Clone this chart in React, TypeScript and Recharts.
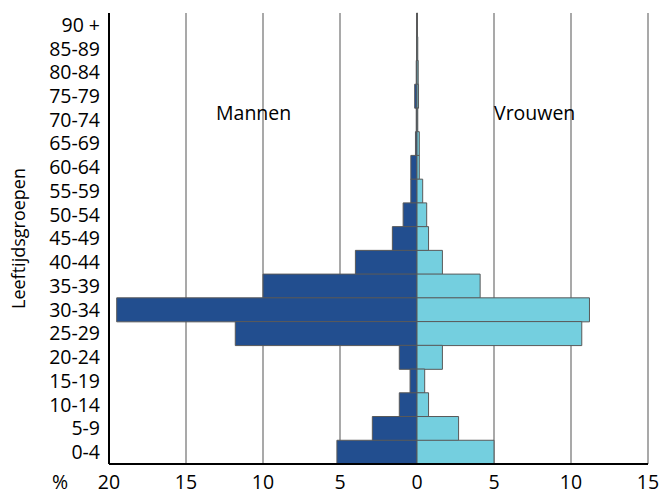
import { Bar, BarChart, CartesianGrid, ReferenceDot, XAxis, YAxis } from "recharts";

const ageGroups = [
  "90 +", "85-89", "80-84", "75-79", "70-74", "65-69", "60-64", "55-59", "50-54", "45-49",
  "40-44", "35-39", "30-34", "25-29", "20-24", "15-19", "10-14", "5-9", "0-4",
];
const mannen = [0.02, 0.02, 0.05, 0.15, 0.05, 0.1, 0.4, 0.4, 0.9, 1.6, 4.0, 10.0, 19.5, 11.8, 1.15, 0.45, 1.15, 2.9, 5.2];
const vrouwen = [0.03, 0.05, 0.08, 0.1, 0.05, 0.15, 0.15, 0.37, 0.63, 0.75, 1.65, 4.1, 11.2, 10.7, 1.65, 0.5, 0.75, 2.7, 5.0];
const xTicks = [-20, -15, -10, -5, 0, 5, 10, 15];

const data = ageGroups.map((age, i) => ({ age, mannen: -mannen[i], vrouwen: vrouwen[i] }));

const FONT = "'Open Sans', sans-serif";

function YTitle(props: any) {
  const vb = props.viewBox || { x: 0, y: 0, height: 0 };
  const cy = vb.y + vb.height / 2;
  return (
    <text x={18} y={cy} transform={`rotate(-90 18 ${cy})`} textAnchor="middle" dominantBaseline="central"
      fontFamily={FONT} fontSize={18} fill="#000">
      Leeftijdsgroepen
    </text>
  );
}

function Percent(props: any) {
  const vb = props.viewBox || { x: 0, y: 0 };
  return (
    <text x={60} y={vb.y + 25} textAnchor="middle" fontFamily={FONT} fontSize={19.5} fill="#000">
      %
    </text>
  );
}

function SideLabel(props: any) {
  const vb = props.viewBox || { x: 0, y: 0 };
  return (
    <text x={vb.cx ?? vb.x} y={vb.cy ?? vb.y} textAnchor="start" fontFamily={FONT} fontSize={19.5} fill="#000">
      {props.value}
    </text>
  );
}

export default function App() {
  return (
    <div style={{ position: "absolute", left: 0, top: 0 }}>
      <BarChart
        width={661}
        height={490}
        data={data}
        layout="vertical"
        stackOffset="sign"
        barCategoryGap={0}
        margin={{ top: 13, right: 13, left: 0, bottom: 0 }}
      >
        <CartesianGrid horizontal={false} stroke="#8c8c8c" strokeWidth={1.5} />
        <XAxis
          type="number"
          domain={[-20, 15]}
          ticks={xTicks}
          tickFormatter={(v: number) => String(Math.abs(v))}
          height={26}
          tickLine={false}
          tickSize={0}
          tickMargin={11}
          axisLine={{ stroke: "#000", strokeWidth: 2 }}
          tick={{ fill: "#000", fontSize: 19.5, fontFamily: FONT }}
          label={<Percent />}
        />
        <YAxis
          type="category"
          dataKey="age"
          width={109}
          tickLine={false}
          tickSize={0}
          tickMargin={9}
          interval={0}
          axisLine={{ stroke: "#000", strokeWidth: 2 }}
          tick={{ fill: "#000", fontSize: 19.5, fontFamily: FONT }}
          label={<YTitle />}
        />
        <Bar dataKey="mannen" stackId="a" fill="#224e8f" stroke="#595959" strokeWidth={1} isAnimationActive={false} />
        <Bar dataKey="vrouwen" stackId="a" fill="#74cfdf" stroke="#595959" strokeWidth={1} isAnimationActive={false} />
        <ReferenceDot x={-13.05} y="70-74" r={0} stroke="none" fill="none" ifOverflow="visible"
          label={<SideLabel value="Mannen" />} />
        <ReferenceDot x={5} y="70-74" r={0} stroke="none" fill="none" ifOverflow="visible"
          label={<SideLabel value="Vrouwen" />} />
      </BarChart>
    </div>
  );
}
